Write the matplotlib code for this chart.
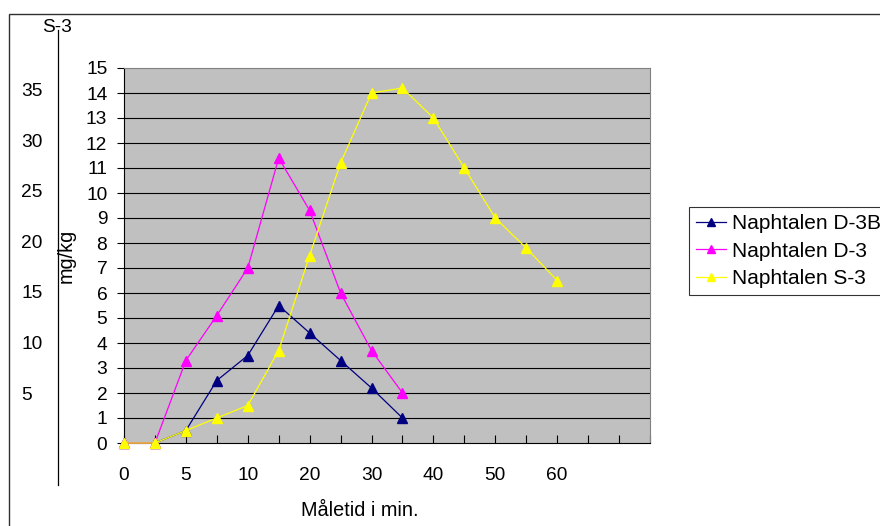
import matplotlib
matplotlib.use("Agg")
import matplotlib.pyplot as plt
from matplotlib.patches import Rectangle

plt.rcParams['font.family'] = ['Liberation Sans', 'DejaVu Sans']

# Category axis: 18 slots, labels on every second one
x_tick_labels = ['0', '', '5', '', '10', '', '20', '', '30', '', '40', '', '50', '', '60', '', '', '']

d3b_vals = [0, 0, 0.5, 2.5, 3.5, 5.5, 4.4, 3.3, 2.2, 1.0]
d3_vals = [0, 0, 3.3, 5.1, 7.0, 11.4, 9.3, 6.0, 3.7, 2.0]
s3_vals = [0, 0, 0.5, 1.0, 1.5, 3.7, 7.5, 11.2, 14.0, 14.2, 13.0, 11.0, 9.0, 7.8, 6.5]

series_names = ['Naphtalen D-3B', 'Naphtalen D-3', 'Naphtalen S-3']
series_colors = ['#000080', '#FF00FF', '#FFFF00']

s3_scale_ticks = [5, 10, 15, 20, 25, 30, 35]

W, H = 880, 526
fig = plt.figure(figsize=(W / 100, H / 100), dpi=100)
fig.patch.set_facecolor('white')


def fx(px):
    return px / W


def fy(py):
    return (H - py) / H


# outer chart frame
fig.add_artist(Rectangle((fx(9), -0.05), 1.2, fy(14) + 0.05, transform=fig.transFigure,
                         fill=False, edgecolor='#303030', linewidth=1.0))

# main plot area
ax = fig.add_axes([fx(124), fy(443), fx(650) - fx(124), fy(68) - fy(443)])
ax.set_facecolor('#C0C0C0')
ax.set_xlim(0, len(x_tick_labels) - 1)
ax.set_ylim(0, 15)
ax.set_yticks(range(0, 16))
ax.set_xticks(range(len(x_tick_labels)))
ax.set_xticklabels(x_tick_labels)
for yv in range(1, 15):
    ax.axhline(yv, color='black', linewidth=0.8, zorder=1)

ax.tick_params(axis='y', direction='out', length=5, width=0.8, pad=7, labelsize=13.8)
ax.tick_params(axis='x', direction='in', length=6, width=0.8, pad=17, labelsize=13.8)
ax.spines['left'].set_color('black')
ax.spines['bottom'].set_color('black')
ax.spines['top'].set_color('#808080')
ax.spines['right'].set_color('#808080')
for s in ax.spines.values():
    s.set_linewidth(0.8)

handles = []
for vals, name, col in zip([d3b_vals, d3_vals, s3_vals], series_names, series_colors):
    (ln,) = ax.plot(range(len(vals)), vals, color=col, linewidth=0.9, marker='^',
                    markersize=6.5, markeredgecolor=col, markerfacecolor=col,
                    label=name, clip_on=False, zorder=3)
    handles.append(ln)

leg = ax.legend(handles=handles, loc='upper left',
                bbox_to_anchor=(fx(689), fy(207)), bbox_transform=fig.transFigure,
                fontsize=15, frameon=True, fancybox=False, edgecolor='black',
                handlelength=1.45, handletextpad=0.3, borderpad=0.33,
                labelspacing=0.42, borderaxespad=0, markerscale=0.8)
leg.get_frame().set_linewidth(0.8)

# secondary scale for the S-3 series
ax2 = fig.add_axes([fx(58), fy(485), 0.001, fy(30) - fy(485)])
ax2.set_ylim(-4.08, 40.88)
ax2.set_xticks([])
ax2.set_yticks(s3_scale_ticks)
ax2.set_yticklabels([str(t) for t in s3_scale_ticks])
ax2.patch.set_visible(False)
for side in ['right', 'top', 'bottom']:
    ax2.spines[side].set_visible(False)
ax2.spines['left'].set_linewidth(0.9)
ax2.tick_params(axis='y', length=0, pad=26.5, labelsize=13.8)
for lab in ax2.get_yticklabels():
    lab.set_horizontalalignment('left')

fig.text(fx(57), fy(28), 'S-3', ha='center', va='center', fontsize=13.8)
fig.text(fx(66), fy(256), 'mg/kg', ha='center', va='center', rotation=90, fontsize=14.3)
fig.text(fx(360), fy(510), 'Måletid i min.', ha='center', va='center', fontsize=14.3)

fig.savefig('out.png', dpi=100)
